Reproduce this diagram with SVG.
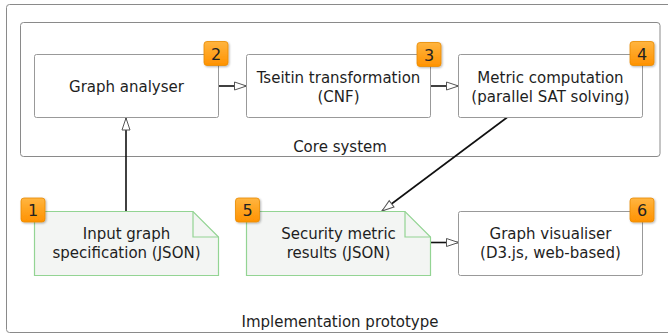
<svg xmlns="http://www.w3.org/2000/svg" width="668" height="335" viewBox="0 0 668 335">
<style>
.frame{fill:#fff;stroke:#8a8a8a;stroke-width:1}
.box{fill:#fff;stroke:#999;stroke-width:1}
.note{fill:#f3f5f3;stroke:#93d493;stroke-width:1.2}
.fold{fill:none;stroke:#93d493;stroke-width:1.2}
.t{font-family:"DejaVu Sans",sans-serif;font-size:15px;fill:#1e1e1e;text-anchor:middle}
.bt{font-family:"DejaVu Sans",sans-serif;font-size:16px;fill:#222;text-anchor:middle}
.badge{fill:url(#og);stroke:#e98a00;stroke-width:0.8}
.conn{stroke:#111;stroke-width:1.6;fill:none}
</style>
<defs>
<linearGradient id="og" x1="0" y1="0" x2="0" y2="1">
<stop offset="0" stop-color="#ffb540"/>
<stop offset="1" stop-color="#ff9200"/>
</linearGradient>
<filter id="sh" x="-20%" y="-20%" width="150%" height="150%">
<feDropShadow dx="1" dy="1" stdDeviation="0.8" flood-color="#000" flood-opacity="0.3"/>
</filter>
<marker id="ah" viewBox="0 0 14 10" refX="13" refY="5" markerWidth="14" markerHeight="10" markerUnits="userSpaceOnUse" orient="auto">
<path d="M1,1 L13,5 L1,9 Z" fill="#fff" stroke="#555" stroke-width="1"/>
</marker>
</defs>

<g id="implementation-prototype">
<rect class="frame" x="6.5" y="4.5" width="680" height="328" rx="3"/>
<text class="t" x="340" y="327">Implementation prototype</text>
</g>

<g id="core-system">
<rect class="frame" x="20.5" y="22.5" width="639.5" height="134" rx="3"/>
<text class="t" x="340" y="151.5">Core system</text>
</g>

<g id="connectors">
<line class="conn" x1="218.5" y1="86" x2="246.5" y2="86" marker-end="url(#ah)"/>
<line class="conn" x1="430.5" y1="86" x2="458.5" y2="86" marker-end="url(#ah)"/>
<line class="conn" x1="126" y1="211" x2="126" y2="118" marker-end="url(#ah)"/>
<line class="conn" x1="507" y1="117.5" x2="382" y2="211" marker-end="url(#ah)"/>
<line class="conn" x1="430.5" y1="242.5" x2="458.5" y2="242.5" marker-end="url(#ah)"/>
</g>

<g id="graph-analyser">
<rect class="box" x="34.5" y="54.5" width="184" height="63" rx="2"/>
<text class="t" x="126.5" y="92">Graph analyser</text>
<rect class="badge" x="204" y="41.5" width="24" height="24" rx="3" filter="url(#sh)"/>
<text class="bt" x="216" y="59.5">2</text>
</g>

<g id="tseitin">
<rect class="box" x="246.5" y="54.5" width="184" height="63" rx="2"/>
<text class="t" x="338.5" y="83">Tseitin transformation</text>
<text class="t" x="338.5" y="101.5">(CNF)</text>
<rect class="badge" x="417" y="42.5" width="24" height="24" rx="3" filter="url(#sh)"/>
<text class="bt" x="429" y="60.5">3</text>
</g>

<g id="metric-computation">
<rect class="box" x="458.5" y="54.5" width="184" height="63" rx="2"/>
<text class="t" x="550.5" y="83">Metric computation</text>
<text class="t" x="550.5" y="101.5">(parallel SAT solving)</text>
<rect class="badge" x="630" y="41.5" width="24" height="24" rx="3" filter="url(#sh)"/>
<text class="bt" x="642" y="59.5">4</text>
</g>

<g id="input-graph">
<path class="note" d="M34.5,211.5 H193 L218.5,237 V275.5 H34.5 Z"/>
<path class="fold" d="M193,211.5 V237 H218.5"/>
<text class="t" x="126.5" y="239">Input graph</text>
<text class="t" x="126.5" y="258">specification (JSON)</text>
<rect class="badge" x="21" y="198" width="24" height="24" rx="3" filter="url(#sh)"/>
<text class="bt" x="33" y="216">1</text>
</g>

<g id="security-metric">
<path class="note" d="M246.5,211.5 H405 L430.5,237 V275.5 H246.5 Z"/>
<path class="fold" d="M405,211.5 V237 H430.5"/>
<text class="t" x="338.5" y="239">Security metric</text>
<text class="t" x="338.5" y="258">results (JSON)</text>
<rect class="badge" x="235.5" y="198" width="24" height="24" rx="3" filter="url(#sh)"/>
<text class="bt" x="247.5" y="216">5</text>
</g>

<g id="graph-visualiser">
<rect class="box" x="458.5" y="211.5" width="184" height="64" rx="2"/>
<text class="t" x="550.5" y="239">Graph visualiser</text>
<text class="t" x="550.5" y="258">(D3.js, web-based)</text>
<rect class="badge" x="630" y="198" width="24" height="24" rx="3" filter="url(#sh)"/>
<text class="bt" x="642" y="216">6</text>
</g>
</svg>
